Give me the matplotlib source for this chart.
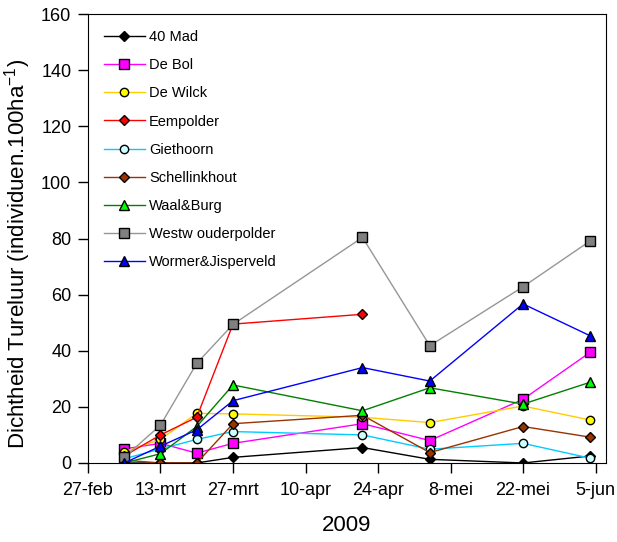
from datetime import datetime
import numpy as np
import matplotlib
matplotlib.use("Agg")
import matplotlib.pyplot as plt

plt.rcParams['font.family'] = ['Liberation Sans', 'DejaVu Sans']

dates = [datetime(2009, 3, 6), datetime(2009, 3, 13), datetime(2009, 3, 20),
         datetime(2009, 3, 27), datetime(2009, 4, 21), datetime(2009, 5, 4),
         datetime(2009, 5, 22), datetime(2009, 6, 4)]

mad40 = [0, 0, 0, 2, 5.5, 1.3, 0, 2.5]
de_bol = [5, 7, 3.5, 7, 14, 8, 22.7, 39.5]
de_wilck = [4, 8.4, 17.7, 17.5, 16.3, 14.4, 20.3, 15.3]
eempolder = [2.5, 10, 16.3, 49.5, 53, np.nan, np.nan, np.nan]
giethoorn = [1.5, 5, 8.4, 11.2, 10, 4.9, 7, 1.7]
schellinkhout = [1, 0, 0, 14, 17, 3.7, 13, 9.2]
waal_burg = [0, 3.3, 13, 27.8, 18.6, 26.8, 21, 28.8]
westwouder = [2, 13.5, 35.5, 49.4, 80.4, 41.8, 62.8, 79.2]
wormer = [0, 6, 11.8, 22.2, 34, 29.2, 56.7, 45.3]

tick_dates = [datetime(2009, 2, 27), datetime(2009, 3, 13), datetime(2009, 3, 27),
              datetime(2009, 4, 10), datetime(2009, 4, 24), datetime(2009, 5, 8),
              datetime(2009, 5, 22), datetime(2009, 6, 5)]
tick_labels = ["27-feb", "13-mrt", "27-mrt", "10-apr", "24-apr", "8-mei",
               "22-mei", "5-jun"]

# name, values, line colour, marker, marker colour
series = [
    ("40 Mad", mad40, "black", "D", "black"),
    ("De Bol", de_bol, "#ff00ff", "s", "#ff00ff"),
    ("De Wilck", de_wilck, "#ffcc00", "o", "#ffff00"),
    ("Eempolder", eempolder, "#ff0000", "D", "#ff0000"),
    ("Giethoorn", giethoorn, "#00ccff", "o", "#ccffff"),
    ("Schellinkhout", schellinkhout, "#993300", "D", "#993300"),
    ("Waal&Burg", waal_burg, "#008000", "^", "#00ff00"),
    ("Westw ouderpolder", westwouder, "#969696", "s", "#808080"),
    ("Wormer&Jisperveld", wormer, "#0000ff", "^", "#0000ff"),
]

fig = plt.figure(figsize=(6.17, 5.42), dpi=100)
ax = fig.add_axes([0.1426, 0.1458, 0.8394, 0.8282])

for name, vals, lc, mk, mc in series:
    ms = 6.5 if mk in ("s", "^") else 6
    if mk == "D":
        ms = 5.5
    ax.plot(dates, vals, color=lc, linewidth=1, marker=mk, markersize=ms,
            markerfacecolor=mc, markeredgecolor="black", markeredgewidth=1,
            label=name)

ax.set_xlim(datetime(2009, 2, 27), datetime(2009, 6, 7))
ax.set_ylim(0, 160)
ax.set_xticks(tick_dates)
ax.set_xticklabels(tick_labels)
ax.set_yticks(range(0, 161, 20))
ax.tick_params(axis='both', direction='out', length=7, width=1,
               labelsize=13)
ax.tick_params(axis='y', pad=5)
ax.tick_params(axis='x', pad=7)

ax.set_xlabel("2009", fontsize=16, labelpad=11)
ax.set_ylabel("Dichtheid Tureluur (individuen.100ha$^{\\mathregular{-1}}$)",
              fontsize=16)
ax.yaxis.set_label_coords(-0.106, 0.465)

ax.legend(loc="upper left", frameon=False, fontsize=10.5, handlelength=2.8,
          labelspacing=0.97, borderaxespad=0.7, handletextpad=0.3)

fig.savefig("out.png", dpi=100)
